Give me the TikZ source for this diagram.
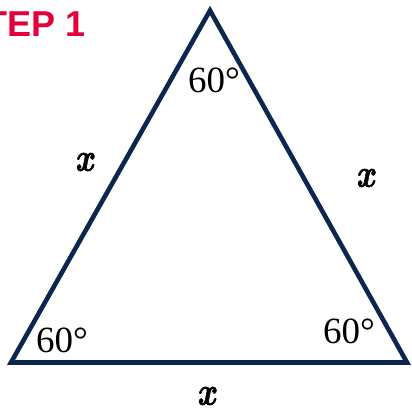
\documentclass[tikz,border=0pt]{standalone}
\usepackage{graphicx}
\usepackage{fontspec}
\setmainfont{Liberation Serif}
\newfontfamily\stepfont{Liberation Sans}
\newfontfamily\xfont{lmroman10-bolditalic}[Extension=.otf, FakeBold=1.6]
\definecolor{navy}{RGB}{12,38,80}
\definecolor{stepred}{RGB}{228,0,58}
\newcommand{\bigx}{\scalebox{0.9}[1.1]{\xfont\fontsize{36}{40}\selectfont x}}
\tikzset{
  edge/.style={draw=navy, line width=4.6pt, line join=miter},
  anglelbl/.style={font=\fontsize{37}{40}\selectfont, inner sep=0pt},
  sidelbl/.style={inner sep=0pt},
  steplbl/.style={font=\stepfont\bfseries\fontsize{36}{40}\selectfont, text=stepred, inner sep=0pt}
}
\begin{document}
\begin{tikzpicture}[x=1pt,y=-1pt]
\useasboundingbox (0,0) rectangle (412,411);
\coordinate (A) at (210,10.5);
\coordinate (B) at (11,362.5);
\coordinate (C) at (407,362.5);
\draw[edge] (A) -- (B) -- (C) -- cycle;
\node[steplbl, anchor=base east] (step) at (86,37) {STEP 1};
\node[anglelbl] (aA) at (214,80) {60°};
\node[anglelbl] (aB) at (62,340) {60°};
\node[anglelbl] (aC) at (349,331) {60°};
\node[sidelbl] (sAB) at (84,162) {\bigx};
\node[sidelbl] (sAC) at (365,178) {\bigx};
\node[sidelbl] (sBC) at (206,396) {\bigx};
\end{tikzpicture}
\end{document}
